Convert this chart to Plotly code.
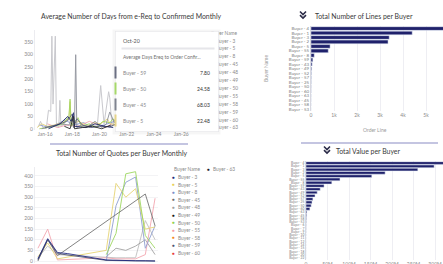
import plotly.graph_objects as go

W, H = 443, 264
def px(x): return x / W
def py(y): return 1 - y / H

FONT = "Lato, Inter, sans-serif"

# ---------------- Top-left: average days e-Req -> confirmed (monthly) ----------------
d48_dates = ["2015-07-01","2015-09-01","2015-11-01","2016-02-01","2016-04-01","2016-06-01","2016-07-01","2016-08-01","2016-10-01","2016-11-01","2017-01-01","2017-02-01","2017-03-01","2017-06-01","2017-09-01","2017-12-01","2018-04-01","2018-08-01","2019-01-01","2019-06-01","2019-11-01","2020-02-01","2020-05-01","2020-09-01","2020-10-01","2020-12-01","2021-03-01","2021-06-01","2021-10-01","2022-02-01","2022-06-01"]
d48_vals = [8,30,5,0,75,70,375,100,375,10,5,115,10,20,45,10,20,10,5,15,10,175,20,150,125,10,40,20,60,15,30]
d45_dates = ["2015-10-01","2016-06-01","2017-03-01","2017-10-01","2018-01-01","2018-03-01","2018-04-01","2018-05-01","2018-09-01","2019-03-01","2019-09-01","2020-03-01","2020-07-01","2020-10-01","2021-02-01","2021-08-01","2022-03-01"]
d45_vals = [0,10,20,15,40,20,300,5,15,10,30,5,20,68.03,25,40,15]
d50_dates = ["2015-08-01","2016-09-01","2017-05-01","2017-10-01","2017-11-01","2017-12-01","2018-06-01","2018-09-01","2019-04-01","2019-10-01","2020-04-01","2020-10-01","2021-01-01","2021-06-01"]
d50_vals = [0,10,20,50,120,10,45,10,20,5,30,24.58,40,10]
d5_dates = ["2015-06-01","2015-10-01","2016-03-01","2016-09-01","2017-04-01","2017-10-01","2017-11-01","2017-12-01","2018-07-01","2019-02-01","2019-08-01","2020-02-01","2020-08-01","2020-10-01","2021-03-01"]
d5_vals = [5,20,10,15,25,40,110,20,30,10,25,20,40,22.48,15]
d59_dates = ["2016-01-01","2016-11-01","2017-08-01","2018-01-01","2018-02-01","2018-05-01","2018-10-01","2019-05-01","2020-01-01","2020-10-01","2021-04-01"]
d59_vals = [5,15,30,60,5,40,15,5,10,7.8,20]
d3_dates = ["2016-04-01","2017-02-01","2017-09-01","2017-12-01","2018-02-01","2018-03-01","2019-01-01","2019-09-01","2020-06-01","2021-01-01"]
d3_vals = [0,20,50,30,65,10,5,20,10,5]
d49_dates = ["2017-06-01","2017-11-01","2018-02-01","2018-03-01","2018-10-01","2019-07-01","2020-03-01","2020-11-01"]
d49_vals = [10,0,50,0,5,10,0,15]
d8_dates = ["2015-08-01","2016-05-01","2017-07-01","2018-02-01","2018-11-01","2019-06-01","2020-05-01","2021-02-01"]
d8_vals = [15,5,35,15,25,5,15,30]
d55_dates = ["2016-03-01","2016-12-01","2017-08-01","2018-06-01","2019-04-01","2020-06-01","2020-12-01"]
d55_vals = [20,5,15,10,30,5,20]
days_ticks = [0,50,100,150,200,250,300,350]

# tooltip content
tip_month = "Oct-20"
tip_measure = "Average Days Ereq to Order Confir..."
tip_buyers = ["Buyer - 59","Buyer - 50","Buyer - 45","Buyer - 5"]
tip_values = ["7.80","24.58","68.03","22.48"]
tip_colors = ["#6b6f82","#a6d86a","#7f838f","#e6d48a"]

# legend names (top-left legend, mostly hidden by tooltip)
days_legend = ["Buyer - 3","Buyer - 5","Buyer - 8","Buyer - 45","Buyer - 48","Buyer - 49","Buyer - 50","Buyer - 55","Buyer - 58","Buyer - 59","Buyer - 60","Buyer - 63"]

# ---------------- Bottom-left: quotes per buyer monthly ----------------
quote_months = ["Jul-19","Aug-19","Sep-19","Oct-19","Nov-19","Dec-19","Jan-20","Feb-20","Mar-20","Apr-20","May-20","Jun-20","Jul-20"]
q_b3  = [10,105,40,35,None,None,None,5,3,2,1,1,0]
q_b59 = [5,100,35,None,None,None,None,3,2,1,1,0,0]
q_b45 = [0,100,25,None,None,None,None,None,None,None,None,315,165]
q_b5  = [20,85,10,None,None,None,None,50,365,300,340,150,160]
q_b50 = [None,None,None,None,None,None,None,30,130,410,420,120,60]
q_b8  = [None,None,None,None,None,None,None,0,260,370,395,60,165]
q_b48 = [None,None,None,None,None,None,None,20,60,50,70,100,30]
q_b60g = [15,70,30,None,None,None,None,15,15,15,15,190,100]
q_b55 = [60,150,5,None,None,None,None,15,10,10,10,30,295]
quote_ticks = [0,50,100,150,200,250,300,350,400]
quote_legend = ["Buyer - 3","Buyer - 5","Buyer - 8","Buyer - 45","Buyer - 48","Buyer - 49","Buyer - 50","Buyer - 55","Buyer - 58","Buyer - 59","Buyer - 60"]
quote_legend_colors = ["#1c2a80","#e8cf5a","#7b8fc9","#6d6d6d","#a0a0a0","#1a1a1a","#8fd14f","#f49aa5","#f5891f","#4d5272","#e8383d"]

# ---------------- Top-right: number of lines per buyer ----------------
lines_buyers = ["Buyer - 4","Buyer - 1","Buyer - 3","Buyer - 2","Buyer - 5","Buyer - 55","Buyer - 8","Buyer - 59","Buyer - 43","Buyer - 49","Buyer - 52","Buyer - 57","Buyer - 25","Buyer - 50","Buyer - 60","Buyer - 63","Buyer - 45","Buyer - 58","Buyer - 53"]
lines_values = [6100,4400,3400,3350,830,750,140,80,50,30,18,12,9,7,5,4,3,2,1]
lines_ticks = [0,1000,2000,3000,4000,5000]
lines_ticktext = ["0","1k","2k","3k","4k","5k"]

# ---------------- Bottom-right: total value per buyer ----------------
value_buyers = ["Buyer - 4","Buyer - 1","Buyer - 3","Buyer - 2","Buyer - 5","Buyer - 55","Buyer - 8","Buyer - 59","Buyer - 43","Buyer - 49","Buyer - 52","Buyer - 57","Buyer - 25","Buyer - 50","Buyer - 60","Buyer - 63","Buyer - 45","Buyer - 58","Buyer - 53","Buyer - 6","Buyer - 7","Buyer - 9","Buyer - 10","Buyer - 11","Buyer - 12","Buyer - 14","Buyer - 15","Buyer - 18","Buyer - 20","Buyer - 22"]
value_values = [330,298,260,184,153,79,60,42,33,26,21,16,14,12,9,2,1.5,1,0.6,0.4,0.3,0.2,0.15,0.1,0.08,0.05,0.03,0.02,0.01,0.005]
value_ticks = [0,50,100,150,200,250,300]
value_ticktext = ["0","50M","100M","150M","200M","250M","300M"]

NAVY = "#1f216b"
fig = go.Figure()

days_series = [
    (d48_dates, d48_vals, "#c4c4c9", "Buyer - 48"),
    (d8_dates, d8_vals, "#8b9bd0", "Buyer - 8"),
    (d55_dates, d55_vals, "#f2a7b0", "Buyer - 55"),
    (d5_dates, d5_vals, "#e5d47e", "Buyer - 5"),
    (d50_dates, d50_vals, "#a3d65c", "Buyer - 50"),
    (d45_dates, d45_vals, "#8c8f99", "Buyer - 45"),
    (d59_dates, d59_vals, "#5d6178", "Buyer - 59"),
    (d3_dates, d3_vals, "#202a6e", "Buyer - 3"),
    (d49_dates, d49_vals, "#2a2a2a", "Buyer - 49"),
]
for xs, ys, c, n in days_series:
    fig.add_trace(go.Scatter(x=xs, y=ys, mode="lines", name=n, line=dict(color=c, width=1), opacity=0.9,
                             xaxis="x", yaxis="y", showlegend=False))

quote_series = [
    (q_b60g, "#bdbdbd", "Buyer - 60"),
    (q_b48, "#9e9e9e", "Buyer - 48"),
    (q_b55, "#f4a3ad", "Buyer - 55"),
    (q_b8, "#8a9bd0", "Buyer - 8"),
    (q_b5, "#e6d36f", "Buyer - 5"),
    (q_b50, "#9ad65a", "Buyer - 50"),
    (q_b45, "#6e6e6e", "Buyer - 45"),
    (q_b59, "#4a4f6a", "Buyer - 59"),
    (q_b3, "#1a237e", "Buyer - 3"),
]
for ys, c, n in quote_series:
    fig.add_trace(go.Scatter(x=quote_months, y=ys, mode="lines", name=n, connectgaps=True,
                             line=dict(color=c, width=1), opacity=0.85,
                             xaxis="x2", yaxis="y2", showlegend=False))

fig.add_trace(go.Bar(x=lines_values, y=lines_buyers, orientation="h", marker=dict(color=NAVY),
                     xaxis="x3", yaxis="y3", showlegend=False))
fig.add_trace(go.Bar(x=value_values, y=value_buyers, orientation="h", marker=dict(color=NAVY),
                     xaxis="x4", yaxis="y4", showlegend=False))

tickf = dict(family=FONT, size=5, color="#8a8a8a")
fig.update_layout(
    width=W, height=H, autosize=False, margin=dict(l=0, r=0, t=0, b=0),
    paper_bgcolor="white", plot_bgcolor="white", font=dict(family=FONT),
    bargap=0.18,
    xaxis=dict(domain=[px(35), px(205)], anchor="y", type="date", range=["2015-04-05", "2027-10-01"],
               tick0="2016-01-01", dtick="M24", tickformat="%b-%y", tickfont=tickf, automargin=False,
               showgrid=False, zeroline=False, showline=False, ticks=""),
    yaxis=dict(domain=[py(130), py(30)], anchor="x", range=[-5, 400], tickvals=days_ticks, automargin=False,
               tickfont=tickf, showgrid=False, zeroline=False, showline=True, linecolor="#ececf0", linewidth=1, ticks=""),
    xaxis2=dict(domain=[px(35), px(158)], anchor="y2", type="category", range=[-0.3, 12.3],
                tickvals=quote_months[::2], tickangle=0, automargin=False,
                tickfont=tickf, showgrid=False, zeroline=False, showline=False, ticks=""),
    yaxis2=dict(domain=[py(263), py(167)], anchor="x2", range=[-9.4, 442], tickvals=quote_ticks,
                tickfont=tickf, showgrid=True, gridcolor="#f3f3f5", zeroline=False, automargin=False,
                showline=True, linecolor="#ececf0", linewidth=1, ticks=""),
    xaxis3=dict(domain=[px(311), 1], anchor="y3", range=[0, 5739], tickvals=lines_ticks, ticktext=lines_ticktext,
                tickfont=tickf, showgrid=True, gridcolor="#eeeef3", zeroline=False, ticks="", automargin=False),
    yaxis3=dict(domain=[py(111.2), py(26.3)], anchor="x3", autorange="reversed", type="category",
                tickmode="linear", dtick=1,
                tickfont=dict(family=FONT, size=4.4, color="#7a7a7a"), showgrid=False, ticks="",
                showline=True, linecolor="#d8d8e0", linewidth=1, automargin=False),
    xaxis4=dict(domain=[px(306), 1], anchor="y4", range=[0, 318.6], tickvals=value_ticks, ticktext=value_ticktext,
                tickfont=tickf, showgrid=True, gridcolor="#eeeef3", zeroline=False, ticks="", automargin=False),
    yaxis4=dict(domain=[py(259.6), py(161.4)], anchor="x4", autorange="reversed", type="category",
                tickmode="linear", dtick=1,
                tickfont=dict(family=FONT, size=3.3, color="#7a7a7a"), showgrid=False, ticks="",
                showline=True, linecolor="#d8d8e0", linewidth=1, automargin=False),
)

def note(text, x, y, xanchor="center", **kw):
    d = dict(text=text, x=px(x), y=py(y), xref="paper", yref="paper", showarrow=False,
             xanchor=xanchor, yanchor="middle")
    d.update(kw)
    return d

title_font = dict(family=FONT, size=6.9, color="#3a3a3a")
ann = []
ann.append(note("Average Number of Days from e-Req to Confirmed Monthly", 131, 16, font=title_font))
ann.append(note("Total Number of Quotes per Buyer Monthly", 122, 153, font=title_font))
ann.append(note("Total Number of Lines per Buyer", 364, 15.5, font=title_font))
ann.append(note("Total Value per Buyer", 368, 151, font=title_font))

# axis titles of the lines-per-buyer chart
axt = dict(family=FONT, size=5, color="#9a9a9a")
ann.append(note("Buyer Name", 266, 69, "center", textangle=-90, font=axt))
ann.append(note("Order Line", 375, 129.5, "center", font=axt))

legf = dict(family=FONT, size=4.8, color="#8a8a8a")
# top-left legend (behind tooltip)
ann.append(note("Buyer Name", 209, 33, "left", font=legf))
for i, n in enumerate(days_legend):
    yy = 40.5 + i * 7.9
    ann.append(note(n, 213.5, yy, "left", font=legf))

# tooltip shadow + box
ann.append(note(" ", 166.5, 81.5, "center", width=107, height=104, bgcolor="rgba(0,0,0,0.035)",
                borderpad=0, font=dict(size=1)))
ann.append(note(" ", 166.5, 81, "center", width=103, height=100, bgcolor="white", bordercolor="#e4e4e8",
                borderwidth=0.6, borderpad=0, font=dict(size=1)))
ann.append(note(tip_month, 121, 41, "left", font=dict(family=FONT, size=5.3, color="#555")))
ann.append(note(" ", 121, 48, "left", width=92, height=1, bgcolor="#e6e6ea", borderpad=0, font=dict(size=1)))
ann.append(note(tip_measure, 121, 57, "left", font=dict(family=FONT, size=4.9, color="#707070")))
for i, (b, v, c) in enumerate(zip(tip_buyers, tip_values, tip_colors)):
    yy = 73 + i * 16
    ann.append(note(" ", 114.3, yy - 0.5, "left", width=1.4, height=11, bgcolor=c, borderpad=0, font=dict(size=1)))
    ann.append(note(b, 121, yy, "left", font=dict(family=FONT, size=5, color="#8a8a8a")))
    ann.append(note(v, 211.5, yy, "right", font=dict(family=FONT, size=5, color="#333")))

# bottom-left legend
ann.append(note("Buyer Name", 172, 169, "left", font=legf))
ann.append(note("●", 208, 169, "center", font=dict(size=4.5, color="#1c1c2c")))
ann.append(note("Buyer - 63", 211, 169, "left", font=legf))
for i, (n, c) in enumerate(zip(quote_legend, quote_legend_colors)):
    yy = 177 + i * 7.6
    ann.append(note("●", 173, yy, "center", font=dict(size=4.5, color=c)))
    ann.append(note(n, 176, yy, "left", font=legf))

fig.update_layout(annotations=ann)

def chevron(cx, y0, color="#2b2b48"):
    out = []
    for dy in (0, 3.6):
        path = "M {},{} L {},{} L {},{}".format(px(cx - 3), py(y0 + dy), px(cx), py(y0 + dy + 3),
                                                px(cx + 3), py(y0 + dy))
        out.append(dict(type="path", path=path, xref="paper", yref="paper",
                        line=dict(color=color, width=1.6)))
    return out

shapes = []
shapes.append(dict(type="line", x0=px(50), x1=px(188), y0=py(144), y1=py(144), xref="paper", yref="paper",
                   line=dict(color="#8a8cc4", width=1.2)))
shapes.append(dict(type="line", x0=px(301), x1=px(438), y0=py(143), y1=py(143), xref="paper", yref="paper",
                   line=dict(color="#8a8cc4", width=1.2)))
shapes += chevron(303, 11.5)
shapes += chevron(327, 146.5)
fig.update_layout(shapes=shapes)

fig.write_html("out.html", config={"displayModeBar": False},
               post_script="document.body.style.margin='0';document.body.style.overflow='hidden';")
